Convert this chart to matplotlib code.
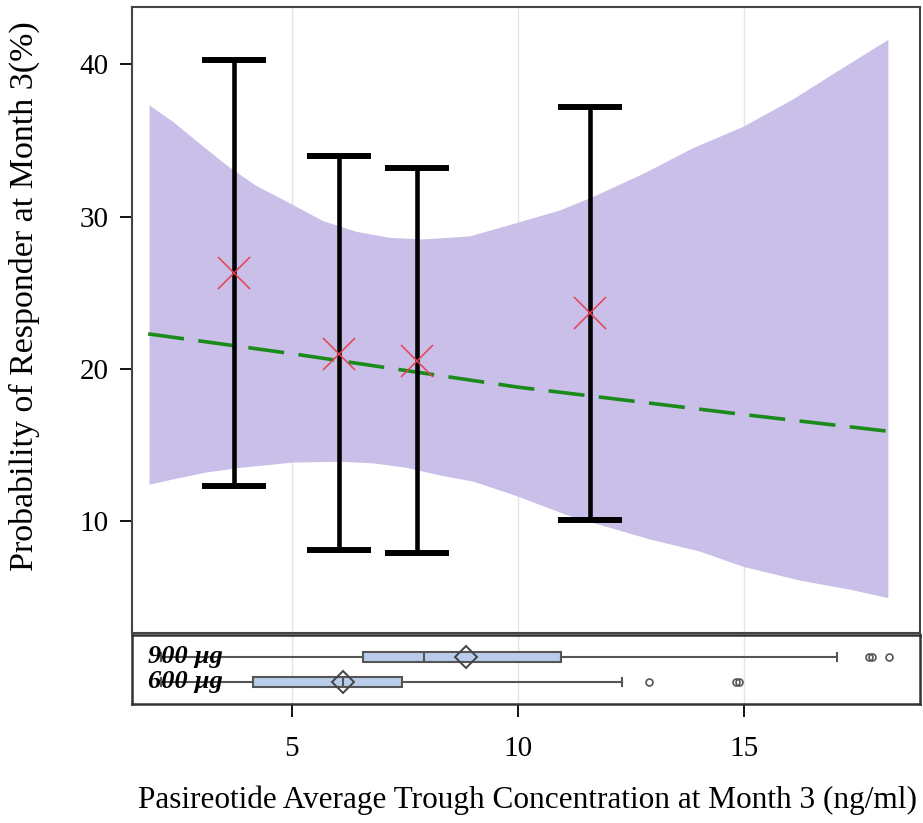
import matplotlib
matplotlib.use("Agg")
import matplotlib.pyplot as plt
import numpy as np

plt.rcParams['font.family'] = ['Liberation Serif', 'DejaVu Serif']

# ---- data ----
bin_x = [3.71, 6.03, 7.77, 11.60]
bin_est = [26.3, 21.0, 20.5, 23.7]
bin_lo = [12.3, 8.1, 7.9, 10.1]
bin_hi = [40.3, 34.0, 33.2, 37.2]

fit_x = [1.82, 5.0, 10.0, 15.0, 18.2]
fit_y = [22.3, 21.0, 18.8, 17.0, 15.9]

band_up_x = [1.85, 2.38, 3.12, 3.63, 4.22, 5.0, 5.69, 6.43, 7.17, 7.91, 8.94,
             10.0, 10.93, 11.67, 12.77, 13.88, 14.99, 16.09, 17.05, 18.19]
band_up_y = [37.3, 36.2, 34.4, 33.2, 32.0, 30.8, 29.7, 29.0, 28.6, 28.5, 28.7,
             29.6, 30.4, 31.3, 32.8, 34.5, 35.9, 37.7, 39.5, 41.6]
band_lo_x = [1.85, 2.38, 3.12, 3.85, 5.03, 6.06, 6.8, 7.54, 8.28, 9.01, 9.97,
             11.08, 11.82, 12.92, 14.03, 14.99, 16.24, 17.35, 18.19]
band_lo_y = [12.4, 12.75, 13.2, 13.5, 13.85, 13.9, 13.8, 13.5, 13.0, 12.6, 11.65,
             10.4, 9.75, 8.8, 8.0, 7.0, 6.1, 5.5, 4.95]

dose_labels = ["600 \u00b5g", "900 \u00b5g"]
box_whislo = [2.1, 2.1]
box_q1 = [4.13, 6.57]
box_med = [6.12, 7.92]
box_q3 = [7.44, 10.96]
box_whishi = [12.3, 17.05]
box_mean = [6.12, 8.86]
box_fliers = [[12.9, 14.81, 14.88], [17.76, 17.83, 18.2]]

x_ticks = [5, 10, 15]
y_ticks = [10, 20, 30, 40]

# ---- figure ----
W, H = 923, 823
fig = plt.figure(figsize=(W / 100, H / 100), dpi=100)
ax = fig.add_axes([132 / W, 1 - 633 / H, (920 - 132) / W, (633 - 7) / H])
axb = fig.add_axes([132 / W, 1 - 704 / H, (920 - 132) / W, (704 - 635) / H])

xlim = (1.462, 18.89)

# confidence band
poly_x = np.r_[band_up_x, band_lo_x[::-1]]
poly_y = np.r_[band_up_y, band_lo_y[::-1]]
ax.fill(poly_x, poly_y, color='#c9bfe8', lw=0, zorder=1)
# fit line
ax.plot(fit_x, fit_y, color='#1a8a1a', lw=2.6, dashes=(10, 4), zorder=3)
# error bars
yerr = [np.array(bin_est) - np.array(bin_lo), np.array(bin_hi) - np.array(bin_est)]
ax.errorbar(bin_x, bin_est, yerr=yerr, fmt='none', ecolor='black', elinewidth=3.3,
            capsize=23, capthick=4.3, zorder=4)
ax.plot(bin_x, bin_est, ls='none', marker='x', ms=23, mew=1.1, color='#e8414f', zorder=5)

ax.set_xlim(*xlim)
ax.set_ylim(2.66, 43.76)
ax.set_xticks(x_ticks)
ax.set_yticks(y_ticks)
ax.grid(axis='x', color='#e4e4e4', lw=1)
ax.set_axisbelow(True)
ax.tick_params(axis='x', bottom=False, labelbottom=False)
ax.tick_params(axis='y', direction='out', length=9, width=1.3, pad=8, labelsize=21)
for s in ax.spines.values():
    s.set_color('#444444')
    s.set_linewidth(1.5)
ax.set_ylabel("Probability of Responder at Month 3(%)", fontsize=24.5, va='center')
ax.yaxis.set_label_coords(-0.136, 0.5375)

# box panel
stats = []
for i in range(2):
    stats.append(dict(label=dose_labels[i], whislo=box_whislo[i], q1=box_q1[i], med=box_med[i],
                      q3=box_q3[i], whishi=box_whishi[i], mean=box_mean[i], fliers=box_fliers[i]))
axb.bxp(stats, positions=[1, 2], widths=0.42, vert=False, patch_artist=True,
        showmeans=True, showcaps=True,
        boxprops=dict(facecolor='#b9cdea', edgecolor='#555555', lw=1.5),
        medianprops=dict(color='#555555', lw=1.5),
        whiskerprops=dict(color='#555555', lw=1.5),
        capprops=dict(color='#555555', lw=1.5),
        capwidths=0.3,
        meanprops=dict(marker='D', markersize=11, markerfacecolor='none',
                       markeredgecolor='#444444', markeredgewidth=1.4),
        flierprops=dict(marker='o', markersize=5, markerfacecolor='none',
                        markeredgecolor='#555555', markeredgewidth=1.2))
axb.set_xlim(*xlim)
axb.set_ylim(0.119, 2.88)
axb.set_yticks([])
axb.set_xticks(x_ticks)
axb.grid(axis='x', color='#e4e4e4', lw=1)
axb.set_axisbelow(True)
axb.tick_params(axis='x', direction='out', length=9, width=1.3, pad=14, labelsize=21)
for s in axb.spines.values():
    s.set_color('#333333')
    s.set_linewidth(1.8)
for pos, lab in zip([1, 2], dose_labels):
    axb.text(1.82, pos, lab, fontsize=19, fontweight='bold', fontstyle='italic',
             ha='left', va='center', zorder=6)
axb.set_xlabel("Pasireotide Average Trough Concentration at Month 3 (ng/ml)", fontsize=22.5, va='center')
axb.xaxis.set_label_coords(0.502, -1.39)

fig.savefig("out.png", dpi=100)
